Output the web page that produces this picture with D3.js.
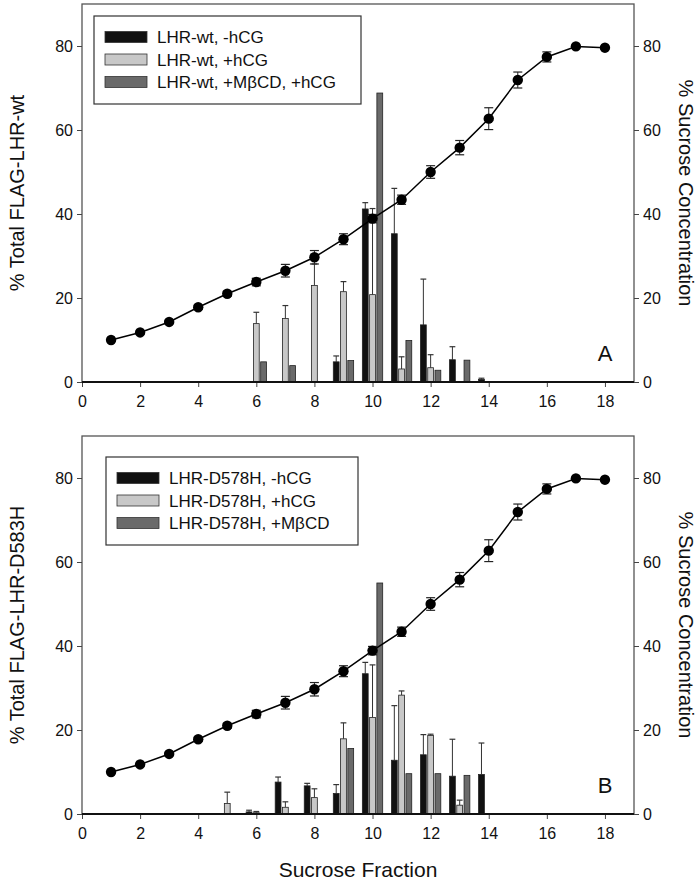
<!DOCTYPE html>
<html>
<head>
<meta charset="utf-8">
<script src="https://cdn.jsdelivr.net/npm/d3@7"></script>
<style>
  html, body { margin: 0; padding: 0; background: #fff; }
  svg { display: block; font-family: "Liberation Sans", Arial, sans-serif; }
</style>
</head>
<body>
<svg id="chart" width="700" height="882"></svg>
<script>
// ---------- DATA ----------
const xTicks = [0, 2, 4, 6, 8, 10, 12, 14, 16, 18];
const yTicks = [0, 20, 40, 60, 80];

// Sucrose concentration curve (right axis) — same in both panels
const fractions = [1, 2, 3, 4, 5, 6, 7, 8, 9, 10, 11, 12, 13, 14, 15, 16, 17, 18];
const sucrose    = [10, 11.8, 14.3, 17.8, 21, 23.8, 26.5, 29.7, 34, 38.9, 43.4, 50, 55.8, 62.7, 71.9, 77.4, 79.9, 79.6];
const sucroseErr = [0, 0, 0.4, 0.5, 0.6, 0.9, 1.5, 1.6, 1.3, 1.0, 1.1, 1.5, 1.7, 2.6, 1.9, 1.2, 0, 0];

// Bar fractions
const barFractions = [5, 6, 7, 8, 9, 10, 11, 12, 13, 14];

// Panel A: LHR-wt
const wtNoHCG      = [null, null, null, null, 4.8, 41.2, 35.3, 13.6, 5.3, 0.6];
const wtNoHCGErr   = [null, null, null, null, 1.4, 1.5, 10.8, 10.9, 3.1, 0.3];
const wtHCG        = [null, 13.9, 15.1, 23.0, 21.5, 20.8, 3.1, 3.4, null, null];
const wtHCGErr     = [null, 2.7, 3.1, 5.1, 2.4, 20.5, 2.9, 3.1, null, null];
const wtMbcdHCG    = [null, 4.8, 3.9, null, 5.1, 68.8, 9.9, 2.8, 5.2, null];
const wtMbcdHCGErr = [null, null, null, null, null, null, null, null, null, null];

// Panel B: LHR-D578H
const mutNoHCG     = [null, 0.5, 7.6, 6.7, 4.9, 33.4, 12.8, 14.1, 9.0, 9.4];
const mutNoHCGErr  = [null, 0.4, 1.2, 0.6, 2.1, 2.7, 13.0, 4.8, 8.8, 7.5];
const mutHCG       = [2.5, 0.3, 1.6, 3.9, 17.9, 23.0, 28.3, 18.7, 2.1, null];
const mutHCGErr    = [2.7, 0.3, 1.3, 2.1, 3.8, 12.5, 1.0, 0.3, 1.2, null];
const mutMbcd      = [null, null, null, null, 15.6, 55.0, 9.6, 9.6, 9.2, null];
const mutMbcdErr   = [null, null, null, null, null, null, null, null, null, null];

const legendA = ["LHR-wt, -hCG", "LHR-wt, +hCG", "LHR-wt, +M\u03B2CD, +hCG"];
const legendB = ["LHR-D578H, -hCG", "LHR-D578H, +hCG", "LHR-D578H, +M\u03B2CD"];

const seriesColors = ["#111111", "#c8c8c8", "#6a6a6a"];
const seriesOffsets = [-0.25, 0, 0.25];

// ---------- DRAW ----------
const svg = d3.select("#chart");
const left = 82, right = 634;
const x = d3.scaleLinear().domain([0, 19]).range([left, right]);

function drawPanel(cfg) {
  const y = d3.scaleLinear().domain([0, 90]).range([cfg.bottom, cfg.top]);
  const g = svg.append("g");

  // frame
  g.append("rect").attr("x", left).attr("y", cfg.top)
    .attr("width", right - left).attr("height", cfg.bottom - cfg.top)
    .attr("fill", "none").attr("stroke", "#555").attr("stroke-width", 1.3);

  // bars
  const barW = x(0.2) - x(0);
  cfg.series.forEach((s, si) => {
    barFractions.forEach((f, i) => {
      const v = s.values[i];
      if (v == null) return;
      const cx = x(f + seriesOffsets[si]);
      const e = s.err[i];
      if (e != null && e > 0) {
        g.append("line").attr("x1", cx).attr("x2", cx)
          .attr("y1", y(v)).attr("y2", y(v + e))
          .attr("stroke", "#333").attr("stroke-width", 1);
        g.append("line").attr("x1", cx - barW / 2).attr("x2", cx + barW / 2)
          .attr("y1", y(v + e)).attr("y2", y(v + e))
          .attr("stroke", "#333").attr("stroke-width", 1.2);
      }
      g.append("rect").attr("x", cx - barW / 2).attr("y", y(v))
        .attr("width", barW).attr("height", y(0) - y(v))
        .attr("fill", seriesColors[si]).attr("stroke", "#222").attr("stroke-width", 0.8);
    });
  });

  // sucrose curve
  const line = d3.line().x((d, i) => x(fractions[i])).y(d => y(d));
  g.append("path").datum(sucrose).attr("d", line)
    .attr("fill", "none").attr("stroke", "#000").attr("stroke-width", 1.5);
  fractions.forEach((f, i) => {
    const e = sucroseErr[i];
    if (e > 0) {
      const cx = x(f);
      g.append("line").attr("x1", cx).attr("x2", cx)
        .attr("y1", y(sucrose[i] - e)).attr("y2", y(sucrose[i] + e))
        .attr("stroke", "#222").attr("stroke-width", 1);
      [sucrose[i] - e, sucrose[i] + e].forEach(v => {
        g.append("line").attr("x1", cx - 4.5).attr("x2", cx + 4.5)
          .attr("y1", y(v)).attr("y2", y(v))
          .attr("stroke", "#222").attr("stroke-width", 1.2);
      });
    }
  });
  g.selectAll("circle.pt").data(sucrose).enter().append("circle")
    .attr("cx", (d, i) => x(fractions[i])).attr("cy", d => y(d))
    .attr("r", 5.2).attr("fill", "#000");

  // axes
  const ax = g.append("g").attr("transform", `translate(0,${cfg.bottom})`)
    .call(d3.axisBottom(x).tickValues(xTicks).tickSize(5).tickPadding(9).tickFormat(d3.format("d")));
  const ayl = g.append("g").attr("transform", `translate(${left},0)`)
    .call(d3.axisLeft(y).tickValues(yTicks).tickSize(5).tickPadding(4));
  const ayr = g.append("g").attr("transform", `translate(${right},0)`)
    .call(d3.axisRight(y).tickValues(yTicks).tickSize(5).tickPadding(4));
  [ax, ayl, ayr].forEach(a => {
    a.select(".domain").remove();
    a.selectAll("line").attr("stroke", "#444").attr("stroke-width", 1);
    a.selectAll("text").attr("font-size", 16).attr("fill", "#111")
      .attr("font-family", "Liberation Sans, Arial, sans-serif");
  });
  // thick bottom axis line
  g.append("line").attr("x1", left).attr("x2", right)
    .attr("y1", cfg.bottom).attr("y2", cfg.bottom)
    .attr("stroke", "#111").attr("stroke-width", 2.2);

  // axis titles
  g.append("text")
    .attr("transform", `translate(24,${(cfg.top + cfg.bottom) / 2}) rotate(-90)`)
    .attr("text-anchor", "middle").attr("font-size", 20).attr("fill", "#111")
    .text(cfg.yTitle);
  g.append("text")
    .attr("transform", `translate(679,${(cfg.top + cfg.bottom) / 2}) rotate(90)`)
    .attr("text-anchor", "middle").attr("font-size", 20).attr("fill", "#111")
    .text("% Sucrose Concentration");

  // panel letter
  g.append("text").attr("x", 605).attr("y", cfg.bottom - 21)
    .attr("text-anchor", "middle").attr("font-size", 22).attr("fill", "#111")
    .text(cfg.letter);

  // legend
  const L = cfg.legend;
  g.append("rect").attr("x", L.x).attr("y", L.y).attr("width", L.w).attr("height", L.h)
    .attr("fill", "#fff").attr("stroke", "#333").attr("stroke-width", 1.2);
  cfg.labels.forEach((lab, i) => {
    const cy = L.y + 21 + i * 22.5;
    g.append("rect").attr("x", L.x + 11).attr("y", cy - 5.5).attr("width", 42).attr("height", 11)
      .attr("fill", seriesColors[i]).attr("stroke", "#333").attr("stroke-width", 0.8);
    g.append("text").attr("x", L.x + 63).attr("y", cy + 6)
      .attr("font-size", 17).attr("fill", "#111").text(lab);
  });
}

drawPanel({
  top: 4, bottom: 382, letter: "A", yTitle: "% Total FLAG-LHR-wt",
  legend: { x: 94, y: 16, w: 267, h: 88 }, labels: legendA,
  series: [
    { values: wtNoHCG, err: wtNoHCGErr },
    { values: wtHCG, err: wtHCGErr },
    { values: wtMbcdHCG, err: wtMbcdHCGErr }
  ]
});
drawPanel({
  top: 436, bottom: 814, letter: "B", yTitle: "% Total FLAG-LHR-D583H",
  legend: { x: 106, y: 457, w: 252, h: 88 }, labels: legendB,
  series: [
    { values: mutNoHCG, err: mutNoHCGErr },
    { values: mutHCG, err: mutHCGErr },
    { values: mutMbcd, err: mutMbcdErr }
  ]
});

svg.append("text").attr("x", 358).attr("y", 877).attr("text-anchor", "middle")
  .attr("font-size", 21).attr("fill", "#111").text("Sucrose Fraction");
</script>
</body>
</html>
